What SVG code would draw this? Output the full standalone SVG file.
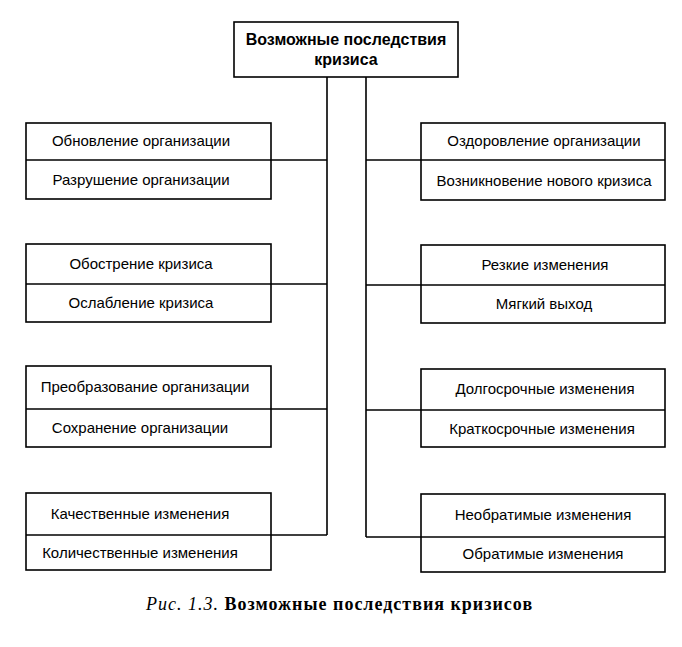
<svg xmlns="http://www.w3.org/2000/svg" width="682" height="647" viewBox="0 0 682 647">
<style>
.box{fill:#fff;stroke:#000;stroke-width:1.6}
.ln{fill:none;stroke:#000;stroke-width:1.6}
.t{font-family:"Liberation Sans",Arial,sans-serif;font-size:15px;text-anchor:middle;fill:#000}
.h{font-family:"Liberation Sans",Arial,sans-serif;font-size:16px;font-weight:bold;text-anchor:middle;fill:#000}
.cap{font-family:"Liberation Serif","Times New Roman",serif;font-size:18px;letter-spacing:1px;fill:#000}
</style>
<rect width="682" height="647" fill="#fff"/>
<g id="connectors">
<path class="ln" d="M327,77 V535 M366,77 V537"/>
<path class="ln" d="M271,160 H327 M271,284 H327 M271,409 H327 M271,535 H327"/>
<path class="ln" d="M366,160 H421 M366,285 H421 M366,410 H421 M366,537 H421"/>
</g>
<g id="root">
<rect class="box" x="234" y="22" width="224" height="55"/>
<text class="h" x="346" y="45">Возможные последствия</text>
<text class="h" x="346" y="65">кризиса</text>
</g>
<g id="l1">
<rect class="box" x="26" y="123" width="245" height="76"/>
<line class="ln" x1="26" y1="160" x2="271" y2="160"/>
<text class="t" x="141" y="146">Обновление организации</text>
<text class="t" x="141" y="185">Разрушение организации</text>
</g>
<g id="l2">
<rect class="box" x="26" y="244" width="245" height="78"/>
<line class="ln" x1="26" y1="284" x2="271" y2="284"/>
<text class="t" x="141" y="269">Обострение кризиса</text>
<text class="t" x="141" y="308">Ослабление кризиса</text>
</g>
<g id="l3">
<rect class="box" x="26" y="366" width="245" height="81"/>
<line class="ln" x1="26" y1="409" x2="271" y2="409"/>
<text class="t" x="145" y="392">Преобразование организации</text>
<text class="t" x="140" y="433">Сохранение организации</text>
</g>
<g id="l4">
<rect class="box" x="26" y="493" width="245" height="77"/>
<line class="ln" x1="26" y1="535" x2="271" y2="535"/>
<text class="t" x="140" y="519">Качественные изменения</text>
<text class="t" x="140" y="558">Количественные изменения</text>
</g>
<g id="r1">
<rect class="box" x="421" y="123" width="244" height="77"/>
<line class="ln" x1="421" y1="160" x2="665" y2="160"/>
<text class="t" x="544" y="146">Оздоровление организации</text>
<text class="t" x="544" y="186">Возникновение нового кризиса</text>
</g>
<g id="r2">
<rect class="box" x="421" y="245" width="244" height="78"/>
<line class="ln" x1="421" y1="285" x2="665" y2="285"/>
<text class="t" x="545" y="270">Резкие изменения</text>
<text class="t" x="544" y="309">Мягкий выход</text>
</g>
<g id="r3">
<rect class="box" x="421" y="369" width="244" height="78"/>
<line class="ln" x1="421" y1="410" x2="665" y2="410"/>
<text class="t" x="545" y="394">Долгосрочные изменения</text>
<text class="t" x="542" y="434">Краткосрочные изменения</text>
</g>
<g id="r4">
<rect class="box" x="421" y="494" width="244" height="78"/>
<line class="ln" x1="421" y1="537" x2="665" y2="537"/>
<text class="t" x="543" y="520">Необратимые изменения</text>
<text class="t" x="543" y="559">Обратимые изменения</text>
</g>
<text class="cap" x="146" y="610"><tspan font-style="italic">Рис. 1.3.</tspan> <tspan font-weight="bold">Возможные последствия кризисов</tspan></text>
</svg>
